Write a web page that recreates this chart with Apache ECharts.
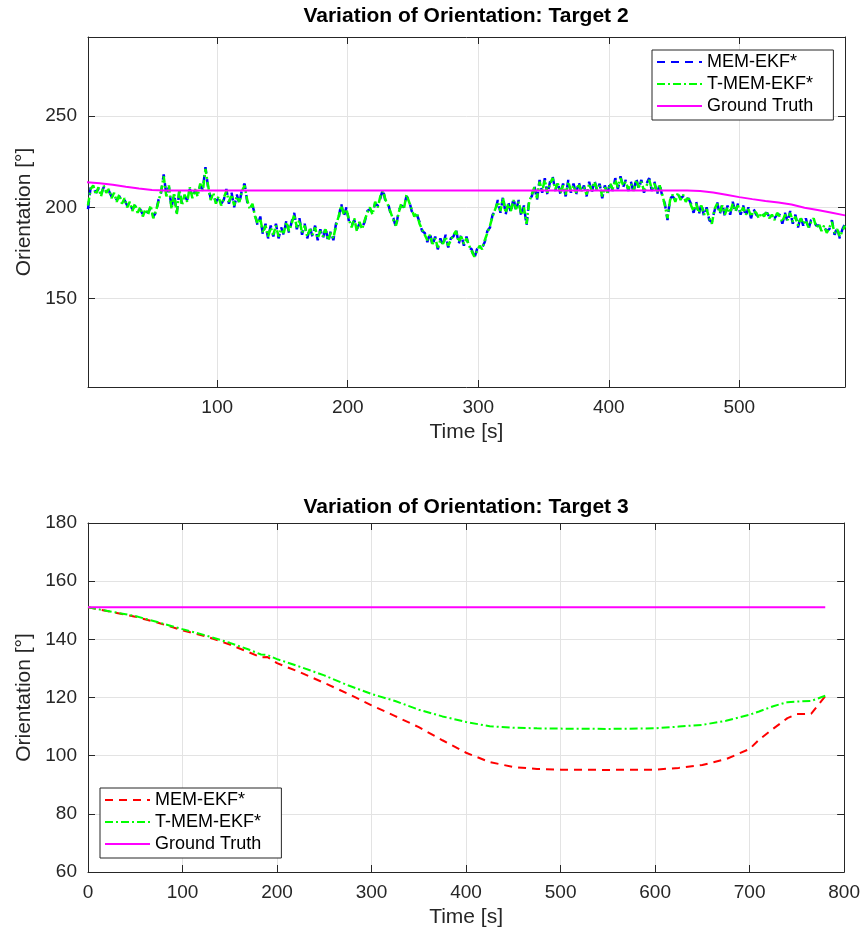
<!DOCTYPE html>
<html>
<head>
<meta charset="utf-8">
<script src="https://cdn.jsdelivr.net/npm/echarts@6/dist/echarts.min.js"></script>
<style>
  html, body { margin: 0; padding: 0; background: #fff; }
  #target2 { position: absolute; left: 0; top: 0; width: 863px; height: 469px; }
  #target3 { position: absolute; left: 0; top: 469px; width: 863px; height: 469px; }
</style>
</head>
<body>
<div id="target2"></div>
<div id="target3"></div>
<script>
// ---------- Target 2 ----------
// estimates sampled every 2 s starting at t = 1 s
const t2Start = 1;
const t2Step = 2;
const t2MemEkf = [
  199,211,211,208,210,207,211,209,209,206,
  207,204,206,203,204,201,202,199,201,198,
  199,196,198,197,200,195,197,204,208,218,
  207,211,200,207,197,209,202,206,204,210,
  206,209,207,212,210,222,211,205,207,203,
  205,202,204,210,202,208,200,207,202,210,
  213,203,200,201,196,190,195,185,191,183,
  190,184,191,183,189,185,193,186,192,197,
  188,194,185,191,183,189,184,190,182,188,
  183,189,181,187,182,191,194,202,195,200,
  192,190,193,188,191,189,192,198,199,197,
  202,201,205,210,203,202,196,194,189,198,
  201,200,206,204,198,196,196,192,187,186,
  181,186,179,184,177,183,179,185,178,183,
  184,188,180,185,179,184,178,177,172,177,
  178,178,181,187,189,196,198,204,197,206,
  196,203,197,205,198,204,195,201,190,204,
  206,212,204,215,208,216,207,214,217,209,
  214,207,213,206,215,208,213,207,214,208,
  212,206,214,208,215,209,213,205,212,207,
  214,209,216,210,217,211,215,209,214,208,
  216,210,215,208,213,216,209,214,207,213,
  206,202,193,205,206,204,207,205,206,204,
  205,202,197,203,196,202,195,200,193,192,
  198,203,196,202,195,201,196,203,197,202,
  196,201,195,200,194,199,196,195,196,196,
  197,195,195,194,196,196,191,197,192,198,
  191,196,189,195,190,194,188,193,193,190,
  190,188,189,187,188,193,185,189,183,188,
  191
];
const t2TMemEkf = [
  201,210,212,207,211,206,212,208,210,205,
  208,203,207,202,205,200,203,198,202,197,
  200,195,199,196,201,194,198,203,209,217,
  206,212,199,208,196,210,201,207,203,211,
  205,210,206,213,209,221,212,204,208,202,
  206,201,205,209,203,207,201,206,203,209,
  212,204,199,202,195,191,194,186,190,184,
  189,185,190,184,188,186,192,187,191,196,
  189,193,186,190,184,188,185,189,183,187,
  184,188,182,186,183,190,195,201,196,199,
  193,189,194,187,192,188,193,197,200,196,
  203,200,206,209,204,201,197,193,190,197,
  202,199,207,203,199,195,197,191,188,185,
  182,185,180,183,178,182,180,184,179,182,
  185,187,181,184,180,183,179,176,173,176,
  179,177,182,186,190,195,199,203,198,205,
  197,202,198,204,199,203,196,200,191,203,
  207,211,205,214,209,215,208,213,216,210,
  213,208,212,207,214,209,212,208,213,209,
  211,207,213,209,214,210,212,206,211,208,
  213,210,215,211,216,212,214,210,213,209,
  215,211,214,209,212,215,210,213,208,212,
  207,201,194,204,207,203,208,204,207,203,
  206,201,198,202,197,201,196,199,194,191,
  199,202,197,201,196,200,197,202,198,201,
  197,200,196,199,195,198,197,194,197,195,
  198,194,196,193,197,195,192,196,193,197,
  192,195,190,194,191,193,189,192,194,189,
  191,187,190,186,189,192,186,188,184,187,
  190
];
const t2TruthTime  = [0, 10, 20, 30, 40, 50, 60, 460, 470, 480, 490, 500, 510, 520, 530, 540, 550, 560, 570, 581];
const t2TruthValue = [213.7, 213.2, 212.4, 211.3, 210.3, 209.5, 209.2, 209.2, 209.0, 208.1, 206.9, 205.6, 204.5, 203.5, 202.6, 201.6, 199.8, 198.5, 197.2, 195.6];
const t2XTicks = [100, 200, 300, 400, 500];
const t2YTicks = [150, 200, 250];

// ---------- Target 3 ----------
const t3Time     = [0, 25, 50, 75, 100, 125, 150, 170, 183, 190, 200, 225, 250, 275, 300, 325, 350, 375, 400, 425, 450, 475, 500, 550, 600, 625, 650, 675, 700, 710, 725, 740, 750, 765, 780];
const t3MemEkf   = [151, 149.4, 147.8, 145.6, 143.1, 141.0, 138.2, 135.6, 133.8, 133.9, 131.8, 128.6, 125.0, 121.3, 117.3, 113.6, 109.8, 105.3, 101.0, 97.8, 96.1, 95.4, 95.2, 95.1, 95.2, 95.8, 96.8, 98.8, 102.3, 105.5, 109.3, 112.9, 114.3, 114.4, 120.4];
const t3TMemEkf  = [151, 149.5, 148.0, 145.8, 143.5, 141.3, 138.8, 136.5, 134.8, 134.6, 133.2, 130.5, 127.6, 124.2, 121.2, 118.8, 115.8, 113.5, 111.6, 110.1, 109.6, 109.4, 109.3, 109.2, 109.4, 110.0, 110.6, 112.0, 114.1, 115.2, 117.0, 118.4, 118.6, 118.8, 120.6];
const t3TruthTime  = [0, 780];
const t3TruthValue = [151, 151];
const t3XTicks = [0, 100, 200, 300, 400, 500, 600, 700, 800];
const t3YTicks = [60, 80, 100, 120, 140, 160, 180];

// ---------- shared styling ----------
const FONT = '"Liberation Sans", Arial, Helvetica, sans-serif';
const INK = '#262626';
const GRID_LINE = '#e3e3e3';
const BLUE = '#0000ff', GREEN = '#00ff00', RED = '#ff0000', MAGENTA = '#ff00ff';
const DASH = [8, 6];
const DASH_DOT = [8, 3, 2, 3];

function pairs(xs, ys) { return xs.map((x, i) => [x, ys[i]]); }
function sampled(start, step, ys) { return ys.map((y, i) => [start + step * i, y]); }

function boxAxes(dim, min, max, ticks, name, nameGap) {
  const main = {
    type: 'value', min: min, max: max,
    position: dim === 'x' ? 'bottom' : 'left',
    name: name, nameLocation: 'middle', nameGap: nameGap,
    nameTextStyle: { fontFamily: FONT, fontSize: 21, color: INK },
    axisLine: { show: true, onZero: false, lineStyle: { color: INK, width: 1 } },
    axisTick: { show: true, inside: true, length: 7, customValues: ticks, lineStyle: { color: INK, width: 1 } },
    axisLabel: { show: true, customValues: ticks, fontFamily: FONT, fontSize: 19, color: INK, margin: 11 },
    splitLine: { show: true, lineStyle: { color: GRID_LINE, width: 1 } }
  };
  const mirror = {
    type: 'value', min: min, max: max,
    position: dim === 'x' ? 'top' : 'right',
    axisLine: { show: true, onZero: false, lineStyle: { color: INK, width: 1 } },
    axisTick: { show: true, inside: true, length: 7, customValues: ticks, lineStyle: { color: INK, width: 1 } },
    axisLabel: { show: false },
    splitLine: { show: false }
  };
  return [main, mirror];
}

function lineSeries(name, data, color, width, dash, z) {
  return {
    type: 'line', name: name, data: data, xAxisIndex: 0, yAxisIndex: 0,
    showSymbol: false, symbol: 'none', animation: false, z: z,
    lineStyle: { color: color, width: width, type: dash },
    itemStyle: { color: color }
  };
}

function legendBox(left, top) {
  return {
    orient: 'vertical', left: left, top: top,
    backgroundColor: '#fff', borderColor: INK, borderWidth: 1,
    padding: [3, 20, 5, 4], itemGap: 4, itemWidth: 45, itemHeight: 14,
    itemStyle: { opacity: 0 },
    textStyle: { fontFamily: FONT, fontSize: 18, color: '#000' },
    selectedMode: false
  };
}

function titleText(text, x, y) {
  return {
    type: 'text', x: x, y: y, z: 100,
    style: { text: text, fill: '#000', font: 'bold 21px ' + FONT, textAlign: 'center', textVerticalAlign: 'middle' }
  };
}

// ---------- chart: Target 2 ----------
const chart2 = echarts.init(document.getElementById('target2'), null, { renderer: 'canvas' });
const [x2, x2m] = boxAxes('x', 1, 581, t2XTicks, 'Time [s]', 33);
const [y2, y2m] = boxAxes('y', 101.6, 293.3, t2YTicks, 'Orientation [°]', 39);
chart2.setOption({
  animation: false,
  grid: { left: 88, right: 18, top: 37, height: 350, containLabel: false },
  xAxis: [x2, x2m],
  yAxis: [y2, y2m],
  legend: Object.assign(legendBox(652, 50), { data: ['MEM-EKF*', 'T-MEM-EKF*', 'Ground Truth'] }),
  graphic: [titleText('Variation of Orientation: Target 2', 466, 16)],
  series: [
    lineSeries('MEM-EKF*', sampled(t2Start, t2Step, t2MemEkf), BLUE, 2.5, DASH, 2),
    lineSeries('T-MEM-EKF*', sampled(t2Start, t2Step, t2TMemEkf), GREEN, 2.5, DASH_DOT, 3),
    lineSeries('Ground Truth', pairs(t2TruthTime, t2TruthValue), MAGENTA, 2, 'solid', 4)
  ]
});

// ---------- chart: Target 3 ----------
const chart3 = echarts.init(document.getElementById('target3'), null, { renderer: 'canvas' });
const [x3, x3m] = boxAxes('x', 0, 800, t3XTicks, 'Time [s]', 33);
const [y3, y3m] = boxAxes('y', 60, 180, t3YTicks, 'Orientation [°]', 39);
chart3.setOption({
  animation: false,
  grid: { left: 88, right: 17, top: 54, height: 349, containLabel: false },
  xAxis: [x3, x3m],
  yAxis: [y3, y3m],
  legend: Object.assign(legendBox(100, 319), { data: ['MEM-EKF*', 'T-MEM-EKF*', 'Ground Truth'] }),
  graphic: [titleText('Variation of Orientation: Target 3', 466, 38)],
  series: [
    lineSeries('MEM-EKF*', pairs(t3Time, t3MemEkf), RED, 2, DASH, 2),
    lineSeries('T-MEM-EKF*', pairs(t3Time, t3TMemEkf), GREEN, 2, DASH_DOT, 3),
    lineSeries('Ground Truth', pairs(t3TruthTime, t3TruthValue), MAGENTA, 2, 'solid', 4)
  ]
});
</script>
</body>
</html>
